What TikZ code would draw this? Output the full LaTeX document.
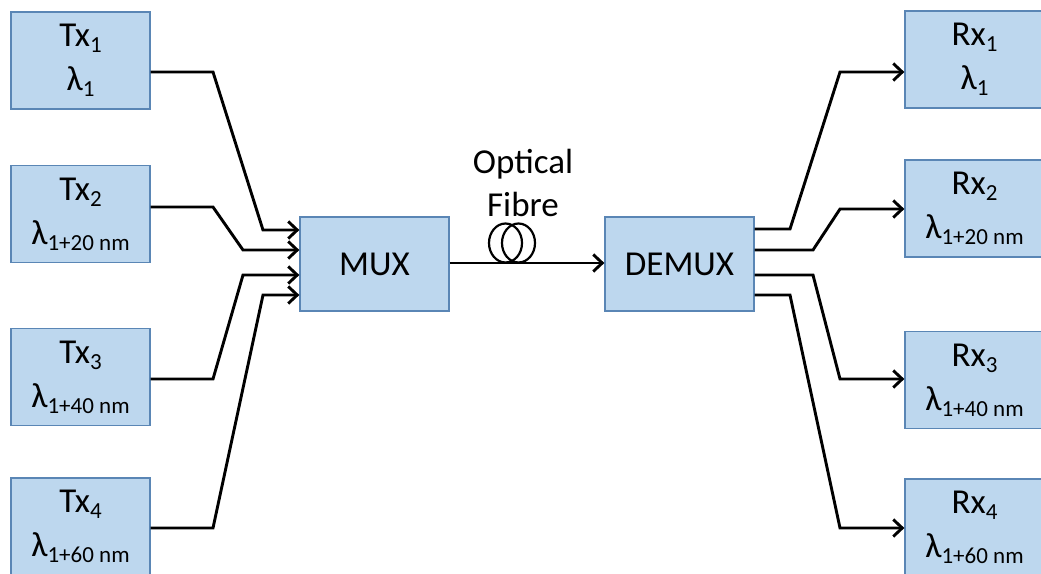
\documentclass[tikz,border=0pt]{standalone}
\usepackage{fontspec}
\setmainfont{Carlito}
\usetikzlibrary{arrows.meta}
\newcommand\sbx[1]{\raisebox{-6pt}{\fontsize{23}{23}\selectfont #1}}
\begin{document}
\begin{tikzpicture}[x=1pt,y=-1pt,
  unitbox/.style={draw=boxline,fill=boxfill,line width=1.3pt,inner sep=0pt,
    minimum width=139pt,minimum height=97pt,align=center,
    font=\fontsize{35}{44}\selectfont},
  muxbox/.style={unitbox,minimum width=149pt,minimum height=94pt},
  conn/.style={line width=2.9pt,line join=miter,-{Straight Barb[length=9pt,width=17pt,line width=2.9pt]}}]
\definecolor{boxfill}{HTML}{BDD7EE}
\definecolor{boxline}{HTML}{5A86B5}
\useasboundingbox (0,0) rectangle (1041,573);
% transmitters
\node[unitbox] (tx1) at (80.5,60.5) {Tx\sbx{1}\\λ\sbx{1}};
\node[unitbox] (tx2) at (80.5,214) {Tx\sbx{2}\\λ\sbx{1+20 nm}};
\node[unitbox] (tx3) at (80.5,377) {Tx\sbx{3}\\λ\sbx{1+40 nm}};
\node[unitbox] (tx4) at (80.5,526.5) {Tx\sbx{4}\\λ\sbx{1+60 nm}};
% receivers
\node[unitbox] (rx1) at (974.5,59.5) {Rx\sbx{1}\\λ\sbx{1}};
\node[unitbox] (rx2) at (974.5,208.5) {Rx\sbx{2}\\λ\sbx{1+20 nm}};
\node[unitbox] (rx3) at (974.5,380) {Rx\sbx{3}\\λ\sbx{1+40 nm}};
\node[unitbox] (rx4) at (974.5,527.5) {Rx\sbx{4}\\λ\sbx{1+60 nm}};
% mux / demux
\node[muxbox] (mux) at (374.5,264) {MUX};
\node[muxbox] (demux) at (679.5,264) {DEMUX};
% fibre
\node[align=center,font=\fontsize{35}{43}\selectfont] (lbl) at (523,183) {Optical\\Fibre};
\draw[conn] (mux.east |- 0,263) -- (demux.west |- 0,263);
\draw[line width=2.2pt] (505.5,243) ellipse [x radius=16.5, y radius=19.5];
\draw[line width=2.2pt] (518.5,243) ellipse [x radius=16.5, y radius=19.5];
% Tx to MUX
\draw[conn] (tx1.east |- 0,72) -- (213,72) -- (263,230) -- (mux.west |- 0,230);
\draw[conn] (tx2.east |- 0,207) -- (213,207) -- (243,250) -- (mux.west |- 0,250);
\draw[conn] (tx3.east |- 0,379) -- (213,379) -- (243,275) -- (mux.west |- 0,275);
\draw[conn] (tx4.east |- 0,528) -- (213,528) -- (263,295) -- (mux.west |- 0,295);
% DEMUX to Rx
\draw[conn] (demux.east |- 0,229) -- (790,229) -- (840,72) -- (rx1.west |- 0,72);
\draw[conn] (demux.east |- 0,250) -- (813,250) -- (840,209) -- (rx2.west |- 0,209);
\draw[conn] (demux.east |- 0,275) -- (813,275) -- (840,379) -- (rx3.west |- 0,379);
\draw[conn] (demux.east |- 0,295) -- (790,295) -- (840,528) -- (rx4.west |- 0,528);
\end{tikzpicture}
\end{document}
